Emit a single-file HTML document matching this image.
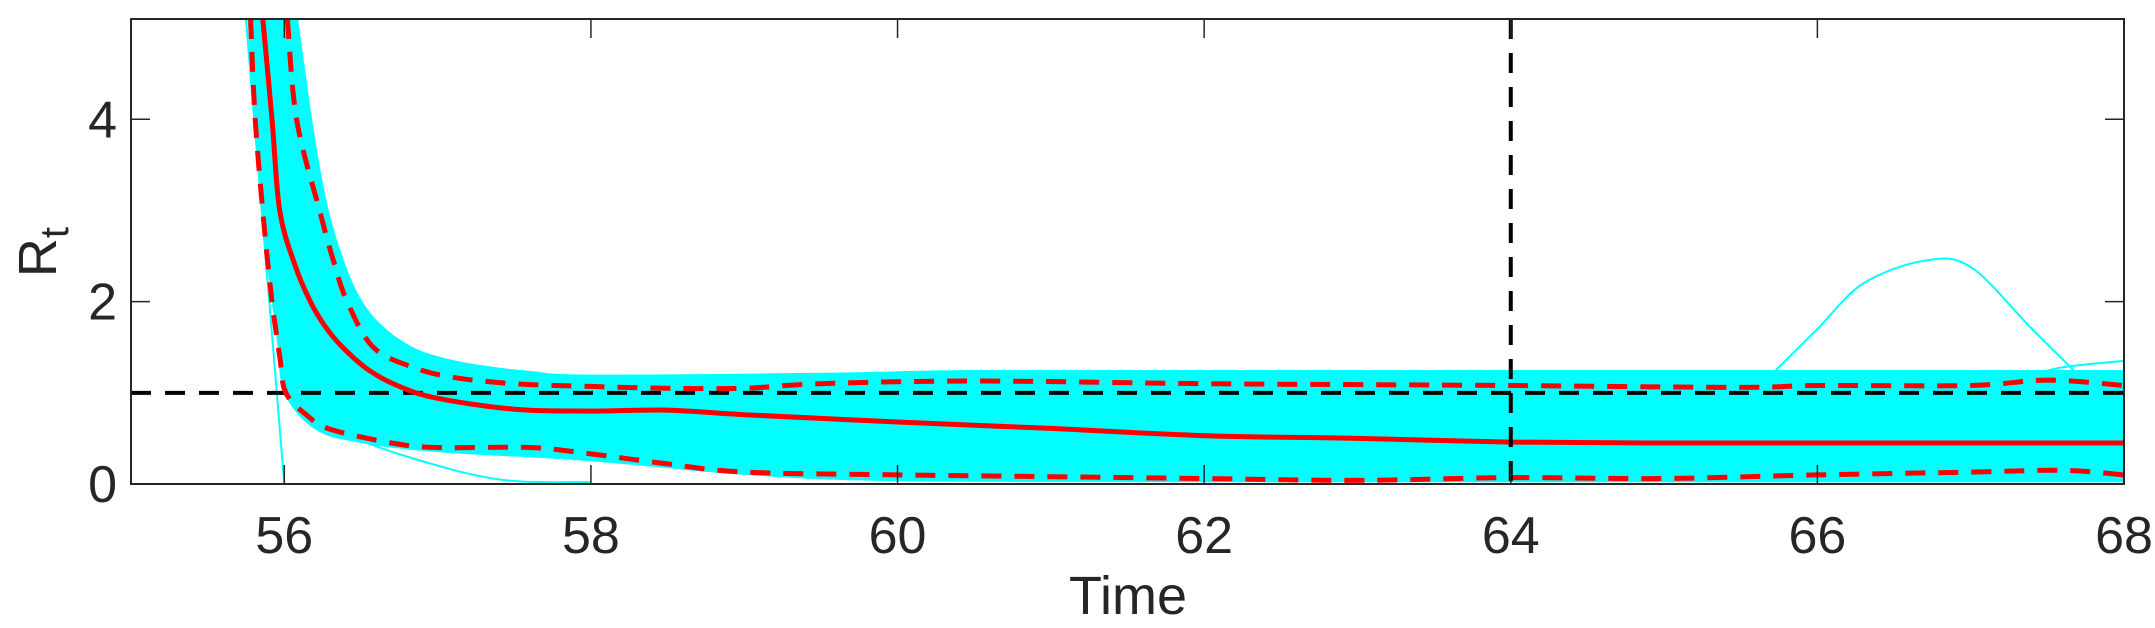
<!DOCTYPE html>
<html><head><meta charset="utf-8"><style>
html,body{margin:0;padding:0;background:#fff;}
svg{display:block;font-family:"Liberation Sans",Arial,sans-serif;}
</style></head><body>
<svg id="chart" width="2155" height="628" viewBox="0 0 2155 628" xmlns="http://www.w3.org/2000/svg" style="position:absolute;left:0;top:0">
<defs><clipPath id="plotclip"><rect x="131" y="19" width="1993" height="465"/></clipPath></defs>
<rect x="0" y="0" width="2155" height="628" fill="#fff"/>
<g id="marks" clip-path="url(#plotclip)"></g>
<g id="axes"></g>
<text x="1128" y="614" text-anchor="middle" font-size="54" fill="#262626">Time</text>
<text transform="translate(56,252) rotate(-90)" text-anchor="middle" font-size="54" fill="#262626">R<tspan font-size="40" dy="12">t</tspan></text>
</svg>
<script>
// ---- data ----
const xTicks = [56, 58, 60, 62, 64, 66, 68];
const yTicks = [0, 2, 4];
const bandUpperT = [56.09, 56.2, 56.29, 56.4, 56.51, 56.65, 56.84, 57.05, 57.3, 57.6, 58, 59.5, 60.5, 62, 64, 66, 68];
const bandUpperV = [5.1, 3.8, 3.0, 2.4, 2.0, 1.72, 1.5, 1.38, 1.3, 1.24, 1.2, 1.22, 1.25, 1.25, 1.25, 1.25, 1.25];
const bandLowerT = [55.76, 55.85, 55.95, 56.0, 56.2, 56.5, 57.0, 58.0, 59.0, 60.0, 62, 64, 66, 68];
const bandLowerV = [5.1, 3.0, 1.6, 1.0, 0.6, 0.45, 0.35, 0.25, 0.1, 0.03, 0.02, 0.02, 0.02, 0.02];
const medianT = [55.86, 55.92, 55.97, 56.07, 56.17, 56.27, 56.38, 56.55, 56.75, 57.0, 57.5, 58.0, 58.5, 59.0, 60.0, 61.0, 62.0, 63.0, 64.0, 65.0, 66.0, 67.0, 68.0];
const medianV = [5.1, 4.0, 3.0, 2.4, 2.0, 1.72, 1.5, 1.25, 1.07, 0.94, 0.82, 0.80, 0.81, 0.76, 0.68, 0.61, 0.53, 0.50, 0.46, 0.45, 0.45, 0.45, 0.45];
const upperT = [56.02, 56.08, 56.23, 56.32, 56.41, 56.58, 56.84, 57.1, 57.5, 58.0, 58.5, 59.0, 59.5, 60.5, 62.0, 63.0, 64.0, 65.5, 66.0, 67.0, 67.5, 68.0];
const upperV = [5.1, 4.0, 3.0, 2.45, 2.0, 1.5, 1.28, 1.17, 1.1, 1.07, 1.05, 1.05, 1.1, 1.13, 1.1, 1.09, 1.08, 1.06, 1.08, 1.08, 1.14, 1.08];
const lowerT = [55.78, 55.81, 55.87, 55.92, 55.97, 56.01, 56.15, 56.3, 56.7, 57.0, 57.6, 58.0, 58.5, 59.0, 60.0, 61.0, 62.0, 63.0, 64.0, 65.0, 66.0, 67.0, 67.6, 68.0];
const lowerV = [5.1, 4.0, 2.8, 2.0, 1.4, 1.0, 0.75, 0.6, 0.45, 0.4, 0.4, 0.33, 0.22, 0.13, 0.1, 0.08, 0.06, 0.04, 0.07, 0.06, 0.1, 0.13, 0.15, 0.1];
const outlierT = [65.7, 66.0, 66.3, 66.7, 67.0, 67.4, 67.7];
const outlierV = [1.2, 1.7, 2.2, 2.45, 2.38, 1.7, 1.2];
const tailT = [67.3, 67.6, 68.0];
const tailV = [1.15, 1.28, 1.35];
const dropT = [55.75, 56.0, 68.0];
const dropV = [5.1, 0.0, 0.0];
const sparseT = [56.3, 56.8, 57.4, 58.0];
const sparseV = [0.6, 0.3, 0.05, 0.02];
const refLevel = 1;
const refTime = 64;

// ---- axes ----
const X0 = 131, X1 = 2124, Y0 = 484, Y1 = 19;
const xMin = 55, xMax = 68, yMin = 0, yMax = 5.1;
function sx(t){ return X0 + (t - xMin) / (xMax - xMin) * (X1 - X0); }
function sy(v){ return Y0 - (v - yMin) / (yMax - yMin) * (Y0 - Y1); }
const NS = "http://www.w3.org/2000/svg";
const marks = document.getElementById('marks');
const axes = document.getElementById('axes');
function mk(tag, parent){ const e = document.createElementNS(NS, tag); parent.appendChild(e); return e; }
function toXY(T, V){ return T.map((t,i)=>[sx(t), sy(V[i])]); }
function smooth(P, move){
  let d = (move ? 'M' : 'L') + P[0][0].toFixed(1) + ',' + P[0][1].toFixed(1);
  for (let i = 0; i < P.length - 1; i++){
    const p0 = P[Math.max(0,i-1)], p1 = P[i], p2 = P[i+1], p3 = P[Math.min(P.length-1,i+2)];
    const c1 = [p1[0] + (p2[0]-p0[0])/6, p1[1] + (p2[1]-p0[1])/6];
    const c2 = [p2[0] - (p3[0]-p1[0])/6, p2[1] - (p3[1]-p1[1])/6];
    d += ' C' + c1.map(n=>n.toFixed(1)).join(',') + ' ' + c2.map(n=>n.toFixed(1)).join(',') + ' ' + p2[0].toFixed(1) + ',' + p2[1].toFixed(1);
  }
  return d;
}

// band
const band = mk('path', marks);


band.setAttribute('d', smooth(toXY(bandUpperT, bandUpperV), true) + ' ' + smooth(toXY(bandLowerT.slice().reverse(), bandLowerV.slice().reverse()), false) + ' Z');
band.setAttribute('fill', '#00ffff');

function line(T, V, name, color, w, dash){
  const p = mk('path', marks);
  
  
  p.setAttribute('d', smooth(toXY(T, V), true));
  p.setAttribute('fill', 'none');
  p.setAttribute('stroke', color);
  p.setAttribute('stroke-width', w);
  p.setAttribute('stroke-linejoin', 'round');
  if (dash) p.setAttribute('stroke-dasharray', dash);
  return p;
}
line(outlierT, outlierV, 'outlier-trajectory', '#00ffff', 2);
line(tailT, tailV, 'tail-trajectory', '#00ffff', 2);
const dp = mk('polyline', marks);


dp.setAttribute('points', toXY(dropT, dropV).map(p=>p.join(',')).join(' '));
dp.setAttribute('fill', 'none'); dp.setAttribute('stroke', '#00ffff'); dp.setAttribute('stroke-width', 2);
line(sparseT, sparseV, 'sparse-trajectory', '#00ffff', 2);

const hl = mk('line', marks);


hl.setAttribute('x1', sx(xMin)); hl.setAttribute('x2', sx(xMax));
hl.setAttribute('y1', sy(refLevel)); hl.setAttribute('y2', sy(refLevel));
hl.setAttribute('stroke', '#000'); hl.setAttribute('stroke-width', 4); hl.setAttribute('stroke-dasharray', '20 14');

line(upperT, upperV, 'upper-quantile', '#ff0000', 5, '20 13');
line(lowerT, lowerV, 'lower-quantile', '#ff0000', 5, '20 13');
line(medianT, medianV, 'median-line', '#ff0000', 5);

const vl = mk('line', marks);


vl.setAttribute('x1', sx(refTime)); vl.setAttribute('x2', sx(refTime));
vl.setAttribute('y1', Y1); vl.setAttribute('y2', Y0);
vl.setAttribute('stroke', '#000'); vl.setAttribute('stroke-width', 4); vl.setAttribute('stroke-dasharray', '20 14');

const frame = mk('rect', axes);


frame.setAttribute('x', X0); frame.setAttribute('y', Y1);
frame.setAttribute('width', X1 - X0); frame.setAttribute('height', Y0 - Y1);
frame.setAttribute('fill', 'none'); frame.setAttribute('stroke', '#262626'); frame.setAttribute('stroke-width', 2);

xTicks.forEach(t => {
  const x = sx(t);
  [[Y0, Y0-19],[Y1, Y1+19]].forEach(([a,b]) => {
    const l = mk('line', axes);
    
    
    l.setAttribute('x1', x); l.setAttribute('x2', x); l.setAttribute('y1', a); l.setAttribute('y2', b);
    l.setAttribute('stroke', '#262626'); l.setAttribute('stroke-width', 1.5);
  });
  const tx = mk('text', axes);
  
  
  tx.setAttribute('x', x); tx.setAttribute('y', 553);
  tx.setAttribute('text-anchor', 'middle'); tx.setAttribute('font-size', 52); tx.setAttribute('fill', '#262626');
  tx.textContent = t;
});
yTicks.forEach(v => {
  const y = sy(v);
  [[X0, X0+19],[X1, X1-19]].forEach(([a,b]) => {
    const l = mk('line', axes);
    
    
    l.setAttribute('x1', a); l.setAttribute('x2', b); l.setAttribute('y1', y); l.setAttribute('y2', y);
    l.setAttribute('stroke', '#262626'); l.setAttribute('stroke-width', 1.5);
  });
  const tx = mk('text', axes);
  
  
  tx.setAttribute('x', 117); tx.setAttribute('y', y + 18);
  tx.setAttribute('text-anchor', 'end'); tx.setAttribute('font-size', 52); tx.setAttribute('fill', '#262626');
  tx.textContent = v;
});
</script>
</body></html>
